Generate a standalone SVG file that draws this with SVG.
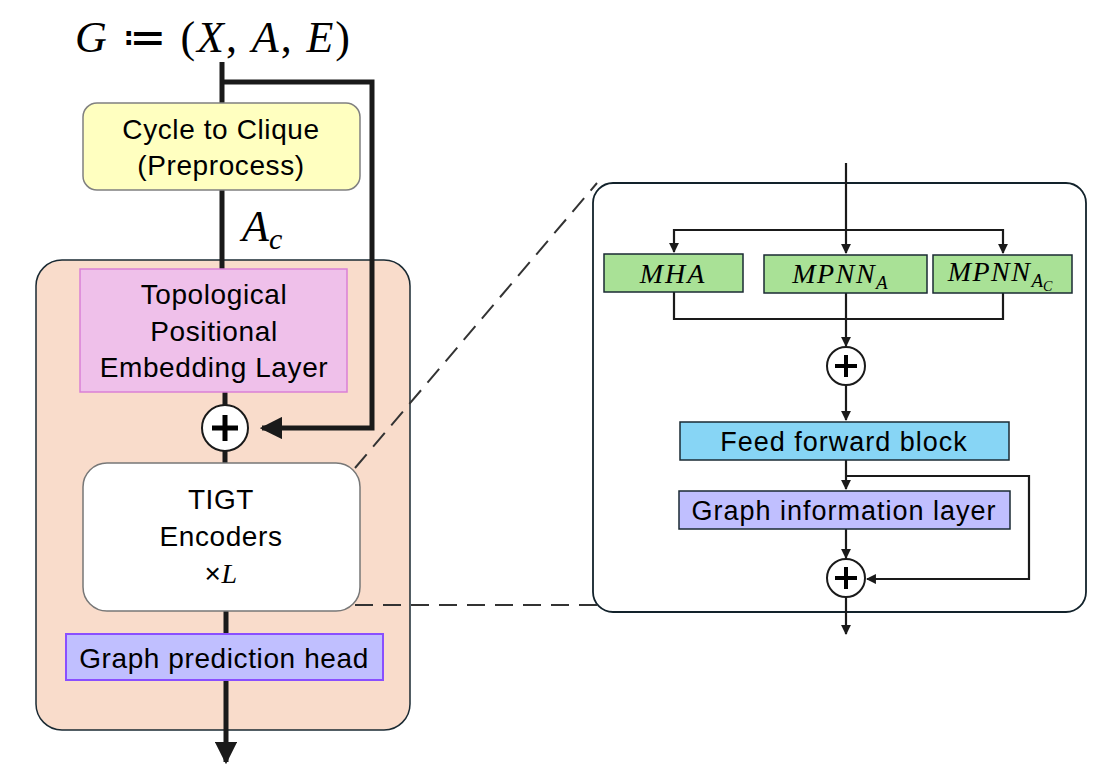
<svg xmlns="http://www.w3.org/2000/svg" width="1094" height="772" viewBox="0 0 1094 772">
<style>
.t{font-family:"Liberation Sans",Arial,sans-serif;font-size:28px;letter-spacing:0.6px;fill:#000;text-anchor:middle}
.r{font-size:27px;letter-spacing:1px}
.m{font-family:"Liberation Serif","Times New Roman",serif;font-style:italic;fill:#000}
.u{font-style:normal}
.thick{stroke:#1a1a1a;stroke-width:5;fill:none}
.thin{stroke:#1a1a1a;stroke-width:2.2;fill:none}
.green{fill:#A9E196;stroke:#1a2a33;stroke-width:1.5}
</style>
<defs>
<marker id="ab" viewBox="0 0 10 10" refX="9" refY="5" markerWidth="4.5" markerHeight="4.5" orient="auto" markerUnits="strokeWidth"><path d="M0,0 L10,5 L0,10 z" fill="#1a1a1a"/></marker>
<marker id="as" viewBox="0 0 10 10" refX="9" refY="5" markerWidth="4.5" markerHeight="4.5" orient="auto" markerUnits="strokeWidth"><path d="M0,0 L10,5 L0,10 z" fill="#1a1a1a"/></marker>
</defs>
<rect width="1094" height="772" fill="#fff"/>

<g id="title">
<text class="m" x="75" y="52" font-size="44" textLength="275" lengthAdjust="spacing">G <tspan class="u">≔ (</tspan>X<tspan class="u">, </tspan>A<tspan class="u">, </tspan>E<tspan class="u">)</tspan></text>
</g>

<g id="container">
<rect x="36" y="260" width="374" height="470" rx="26" fill="#F9DCCB" stroke="#1a2a33" stroke-width="1.5"/>
</g>
<g id="zoom-panel">
<rect x="593" y="183" width="493" height="429" rx="20" fill="#fff" stroke="#12222b" stroke-width="1.8"/>
</g>

<g id="connectors">
<line class="thick" x1="222" y1="62" x2="222" y2="269"/>
<path class="thick" d="M222,82 H372 V428 H262" marker-end="url(#ab)"/>
<line class="thick" x1="225" y1="392" x2="225" y2="406"/>
<line class="thick" x1="225" y1="450" x2="225" y2="463"/>
<path class="thick" d="M226,611 V762" marker-end="url(#ab)"/>
<line x1="355" y1="468" x2="597" y2="183" stroke="#333" stroke-width="2" stroke-dasharray="18,10"/>
<line x1="355" y1="605" x2="597" y2="605" stroke="#333" stroke-width="2" stroke-dasharray="18,10"/>
<line class="thin" x1="846" y1="163" x2="846" y2="230"/>
<path class="thin" d="M846,230 V253" marker-end="url(#as)"/>
<path class="thin" d="M846,230 H674 V252" marker-end="url(#as)"/>
<path class="thin" d="M846,230 H1003 V253" marker-end="url(#as)"/>
<path class="thin" d="M674,292 V319 H1003 V293"/>
<path class="thin" d="M846,293 V346" marker-end="url(#as)"/>
<path class="thin" d="M846,384 V420" marker-end="url(#as)"/>
<path class="thin" d="M846,460 V489" marker-end="url(#as)"/>
<path class="thin" d="M846,476 H1029 V579 H867" marker-end="url(#as)"/>
<path class="thin" d="M846,529 V558" marker-end="url(#as)"/>
<path class="thin" d="M846,597 V634" marker-end="url(#as)"/>
</g>

<g id="cycle-to-clique">
<rect x="83" y="103" width="277" height="87" rx="14" fill="#FFFFC0" stroke="#808080" stroke-width="1.5"/>
<text class="t" x="221" y="139">Cycle to Clique</text>
<text class="t" x="221" y="175">(Preprocess)</text>
</g>
<g id="ac-label">
<text class="m" x="242" y="241" font-size="44">A<tspan font-size="30" dy="8">c</tspan></text>
</g>
<g id="tpe">
<rect x="80" y="269" width="267" height="123" fill="#EFC0EA" stroke="#DA80D6" stroke-width="1.5"/>
<text class="t" x="214" y="304">Topological</text>
<text class="t" x="214" y="341">Positional</text>
<text class="t" x="214" y="377">Embedding Layer</text>
</g>
<g id="plus-main">
<circle cx="225" cy="428" r="23" fill="#fff" stroke="#1a1a1a" stroke-width="2"/>
<path d="M212,428 H238 M225,415 V441" stroke="#000" stroke-width="5"/>
</g>
<g id="tigt">
<rect x="83" y="463" width="277" height="148" rx="24" fill="#fff" stroke="#777" stroke-width="1.5"/>
<text class="t" x="221" y="509">TIGT</text>
<text class="t" x="221" y="546">Encoders</text>
<text class="t" x="221" y="583">×<tspan class="m">L</tspan></text>
</g>
<g id="pred-head">
<rect x="66" y="634" width="317" height="46" fill="#C0BFFF" stroke="#8A4FFF" stroke-width="2"/>
<text class="t" x="224" y="668">Graph prediction head</text>
</g>

<g id="mha">
<rect class="green" x="604" y="254" width="139" height="38"/>
<text class="m" x="673" y="283" font-size="28" letter-spacing="2" text-anchor="middle">MHA</text>
</g>
<g id="mpnn-a">
<rect class="green" x="764" y="255" width="163" height="38"/>
<text class="m" x="840" y="283" font-size="28" letter-spacing="1.5" text-anchor="middle">MPNN<tspan font-size="19" dy="6" letter-spacing="0">A</tspan></text>
</g>
<g id="mpnn-ac">
<rect class="green" x="933" y="255" width="139" height="38"/>
<text class="m" x="1000" y="281" font-size="28" letter-spacing="1.5" text-anchor="middle">MPNN<tspan font-size="19" dy="6" letter-spacing="0">A</tspan><tspan font-size="14" dy="4" letter-spacing="0">C</tspan></text>
</g>
<g id="plus-1">
<circle cx="846" cy="366" r="19" fill="#fff" stroke="#1a1a1a" stroke-width="2"/>
<path d="M835,366 H857 M846,355 V377" stroke="#000" stroke-width="4"/>
</g>
<g id="ffb">
<rect x="680" y="422" width="329" height="38" fill="#87D5F5" stroke="#1a2a33" stroke-width="1.5"/>
<text class="t r" x="844" y="451">Feed forward block</text>
</g>
<g id="gil">
<rect x="679" y="491" width="331" height="38" fill="#C0BFFF" stroke="#1a2a33" stroke-width="1.5"/>
<text class="t r" x="844" y="520">Graph information layer</text>
</g>
<g id="plus-2">
<circle cx="846" cy="578" r="19" fill="#fff" stroke="#1a1a1a" stroke-width="2"/>
<path d="M835,578 H857 M846,567 V589" stroke="#000" stroke-width="4"/>
</g>
</svg>
